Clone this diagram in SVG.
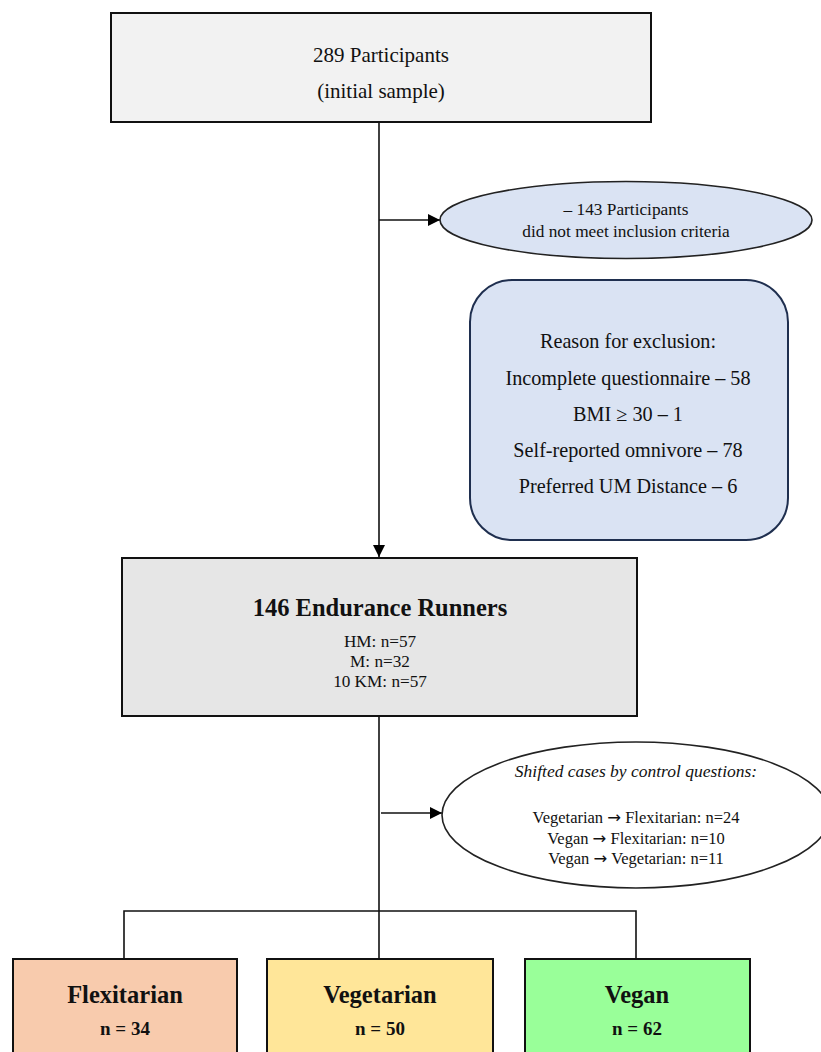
<svg xmlns="http://www.w3.org/2000/svg" width="821" height="1052" viewBox="0 0 821 1052">
  <defs>
    <marker id="arrow" viewBox="0 0 10 10" refX="10" refY="5" markerWidth="13" markerHeight="12" markerUnits="userSpaceOnUse" orient="auto">
      <path d="M0,0 L10,5 L0,10 Z" fill="#000"/>
    </marker>
    <style>
      text { font-family: "Liberation Serif", "Times New Roman", serif; fill: #111; text-anchor: middle; }
      .box { stroke: #111; stroke-width: 2; }
      .conn { stroke: #111; stroke-width: 1.6; fill: none; }
      .b { font-weight: bold; }
      .ar { font-family: "DejaVu Sans", sans-serif; }
    </style>
  </defs>
  <rect width="821" height="1052" fill="#fff"/>

  <g id="connectors">
    <line class="conn" x1="379" y1="123" x2="379" y2="557" marker-end="url(#arrow)"/>
    <line class="conn" x1="379" y1="220" x2="440" y2="220" marker-end="url(#arrow)"/>
    <line class="conn" x1="379" y1="716" x2="379" y2="959"/>
    <line class="conn" x1="381" y1="813" x2="442" y2="813" marker-end="url(#arrow)"/>
    <polyline class="conn" points="124,959 124,911 636,911 636,959"/>
  </g>

  <g id="initial-sample">
    <rect class="box" x="111" y="13" width="540" height="109" fill="#f2f2f2"/>
    <text x="381" y="62" font-size="21">289 Participants</text>
    <text x="381" y="98" font-size="21">(initial sample)</text>
  </g>

  <g id="excluded">
    <ellipse cx="626" cy="220" rx="186" ry="38.5" fill="#dae3f3" stroke="#222" stroke-width="1.6"/>
    <text x="626" y="215" font-size="17.3">– 143 Participants</text>
    <text x="626" y="237" font-size="17.3">did not meet inclusion criteria</text>
  </g>

  <g id="exclusion-reasons">
    <rect x="470" y="280" width="318" height="260" rx="42" ry="42" fill="#dae3f3" stroke="#1f2f4f" stroke-width="2"/>
    <text x="628" y="348" font-size="20.2">Reason for exclusion:</text>
    <text x="628" y="385" font-size="20.2">Incomplete questionnaire – 58</text>
    <text x="628" y="421" font-size="20.2">BMI ≥ 30 – 1</text>
    <text x="628" y="457" font-size="20.2">Self-reported omnivore – 78</text>
    <text x="628" y="493" font-size="20.2">Preferred UM Distance – 6</text>
  </g>

  <g id="endurance-runners">
    <rect class="box" x="122" y="558" width="515" height="158" fill="#e6e6e6"/>
    <text class="b" x="380" y="616" font-size="24.5">146 Endurance Runners</text>
    <text x="380" y="647" font-size="17.2">HM: n=57</text>
    <text x="380" y="667" font-size="17.2">M: n=32</text>
    <text x="380" y="687" font-size="17.2">10 KM: n=57</text>
  </g>

  <g id="shifted-cases">
    <ellipse cx="636" cy="815" rx="194" ry="73" fill="#fff" stroke="#222" stroke-width="1.6"/>
    <text x="636" y="777" font-size="17.5" font-style="italic">Shifted cases by control questions:</text>
    <text x="636" y="823" font-size="16.5">Vegetarian <tspan class="ar">→</tspan> Flexitarian: n=24</text>
    <text x="636" y="844" font-size="16.5">Vegan <tspan class="ar">→</tspan> Flexitarian: n=10</text>
    <text x="636" y="864" font-size="16.5">Vegan <tspan class="ar">→</tspan> Vegetarian: n=11</text>
  </g>

  <g id="flexitarian">
    <rect class="box" x="13" y="959" width="224" height="104" fill="#f8cbad"/>
    <text class="b" x="125" y="1003" font-size="24.5">Flexitarian</text>
    <text class="b" x="125" y="1035" font-size="19">n = 34</text>
  </g>

  <g id="vegetarian">
    <rect class="box" x="267" y="959" width="226" height="104" fill="#ffe699"/>
    <text class="b" x="380" y="1003" font-size="24.5">Vegetarian</text>
    <text class="b" x="380" y="1035" font-size="19">n = 50</text>
  </g>

  <g id="vegan">
    <rect class="box" x="525" y="959" width="225" height="104" fill="#99ff99"/>
    <text class="b" x="637" y="1003" font-size="24.5">Vegan</text>
    <text class="b" x="637" y="1035" font-size="19">n = 62</text>
  </g>
</svg>
